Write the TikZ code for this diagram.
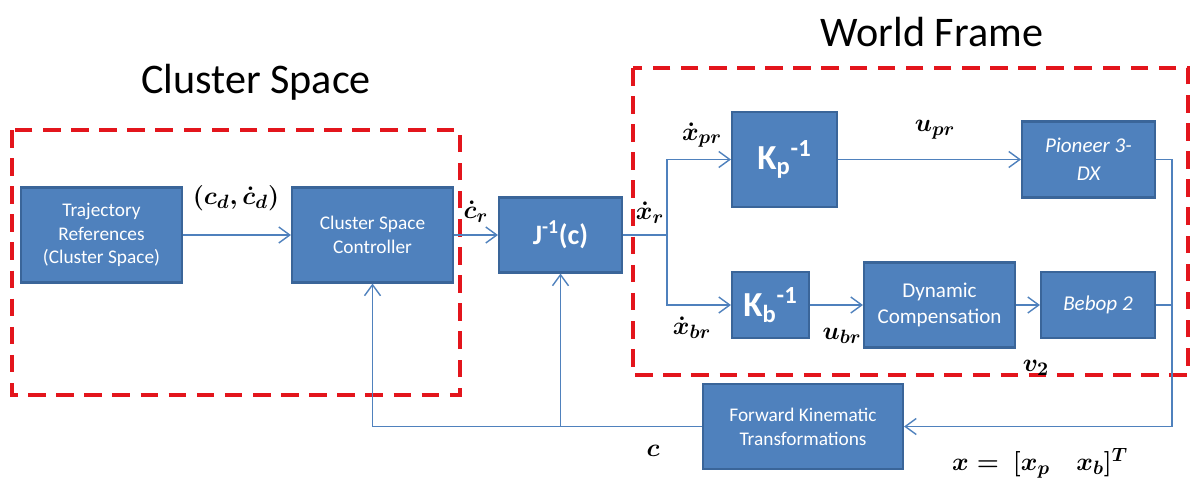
\documentclass[tikz,border=0pt]{standalone}
\usepackage{amsmath}
\usepackage{fontspec}
\setmainfont{Carlito}
\definecolor{boxblue}{HTML}{4F81BD}
\definecolor{boxedge}{HTML}{3A6599}
\definecolor{framered}{HTML}{E3151C}
\usetikzlibrary{positioning,arrows.meta,calc}

\begin{document}
\begin{tikzpicture}[x=0.02cm, y=-0.02cm,
      block/.style={rectangle, draw=boxedge, line width=1.2pt, fill=boxblue,
                    text=white, align=center, inner sep=0pt,
                    font=\fontsize{11}{13.5}\selectfont},
      wire/.style={draw=boxblue, line width=0.8pt},
      feed/.style={wire, -{Straight Barb[length=2.2mm, width=3.2mm]}},
      frame/.style={draw=framered, line width=1.8pt, dash pattern=on 10pt off 6pt},
      sig/.style={inner sep=1pt, font=\fontsize{15}{17}\selectfont},
      title/.style={font=\fontsize{24}{28}\selectfont},
    ]
    \useasboundingbox (0,0) rectangle (1195,484);

    % dashed frames
    \draw[frame] (12,130) rectangle (460,395);
    \draw[frame] (633,68) rectangle (1188,375);
    \node[title] (cstitle) at (256,82) {Cluster Space};
    \node[title] (wftitle) at (932,32) {World Frame};

    % blocks
    \node[block, minimum width=3.22cm, minimum height=1.9cm] (traj) at (101.5,235)
      {Trajectory\\References\\(Cluster Space)};
    \node[block, minimum width=3.22cm, minimum height=1.9cm] (csc) at (372.5,235)
      {Cluster Space\\Controller};
    \node[block, minimum width=2.46cm, minimum height=1.5cm,
          font=\fontsize{16}{18}\selectfont\bfseries] (jinv) at (560.5,235)
      {J\textsuperscript{-1}(c)};
    \node[block, minimum width=2.1cm, minimum height=1.9cm,
          font=\fontsize{20}{22}\selectfont\bfseries] (kp) at (784.5,159.5)
      {K\textsubscript{p}\textsuperscript{-1}};
    \node[block, minimum width=2.66cm, minimum height=1.52cm,
          font=\fontsize{12}{16}\selectfont\itshape] (pio) at (1088.5,159.5)
      {Pioneer 3-\\DX};
    \node[block, minimum width=1.54cm, minimum height=1.32cm,
          font=\fontsize{20}{22}\selectfont\bfseries] (kb) at (770.5,305)
      {K\textsubscript{b}\textsuperscript{-1}};
    \node[block, minimum width=3.02cm, minimum height=1.7cm,
          font=\fontsize{12}{15}\selectfont] (dyn) at (939.5,305)
      {Dynamic\\Compensation};
    \node[block, minimum width=2.28cm, minimum height=1.32cm,
          font=\fontsize{12}{15}\selectfont\itshape] (bebop) at (1098,305)
      {Bebop 2};
    \node[block, minimum width=4cm, minimum height=1.7cm] (fk) at (803,426.5)
      {Forward Kinematic\\Transformations};

    % branch and return points
    \coordinate (split) at (667,235);
    \coordinate (join) at (1172,426.5);

    % forward path
    \draw[feed] (traj) -- (csc);
    \draw[feed] (csc) -- (jinv);
    \draw[wire] (jinv) -- (split);
    \draw[feed] (split) |- (kp);
    \draw[feed] (split) |- (kb);
    \draw[feed] (kp) -- (kp -| pio.west);
    \draw[feed] (kb) -- (kb -| dyn.west);
    \draw[feed] (dyn) -- (dyn -| bebop.west);
    \draw[wire] (pio.east) -| (join);
    \draw[wire] (bebop.east) -| (join);

    % feedback
    \draw[feed] (join) -- (fk);
    \draw[feed] (fk.west) -| (csc.south);
    \draw[feed] (jinv.south |- fk.west) -- (jinv.south);

    % signal labels
    \node[sig] (lcd) at (236,198) {$\boldsymbol{(c_d,\dot{c}_d)}$};
    \node[sig] (lcr) at (476,212) {$\boldsymbol{\dot{c}_r}$};
    \node[sig] (lxr) at (650,213) {$\boldsymbol{\dot{x}_r}$};
    \node[sig] (lxpr) at (702,135) {$\boldsymbol{\dot{x}_{pr}}$};
    \node[sig] (lxbr) at (692,328) {$\boldsymbol{\dot{x}_{br}}$};
    \node[sig] (lupr) at (935,130) {$\boldsymbol{u_{pr}}$};
    \node[sig] (lubr) at (842,336) {$\boldsymbol{u_{br}}$};
    \node[sig] (lv2) at (1036,368) {$\boldsymbol{v_2}$};
    \node[sig] (lc) at (653,451) {$\boldsymbol{c}$};
    \node[sig] (lx) at (1040,463) {$\boldsymbol{x =\ [x_p \quad x_b]^T}$};
  \end{tikzpicture}
\end{document}
